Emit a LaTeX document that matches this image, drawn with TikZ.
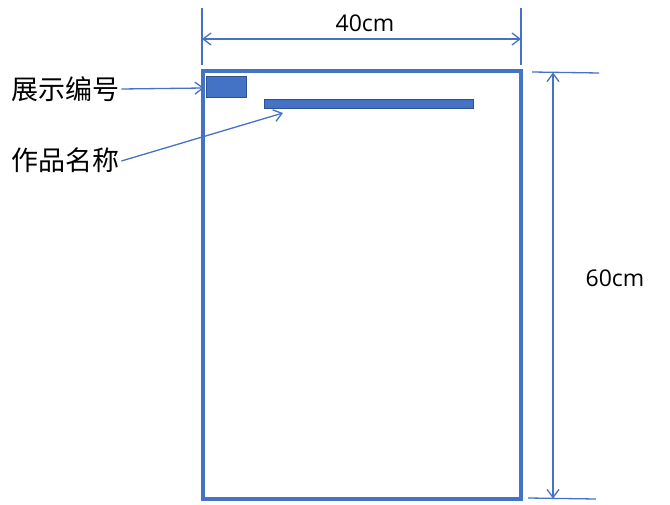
\documentclass[tikz,border=0pt]{standalone}
\usepackage{fontspec}
\setmainfont{Open Sans}
\newfontfamily\cjk{Noto Sans CJK SC}
\usetikzlibrary{arrows.meta}
\definecolor{accent}{HTML}{4472C4}
\definecolor{accentdark}{HTML}{2F528F}
\tikzset{
  dimline/.style={draw=accent, line width=1.3bp},
  dimarrow/.style={draw=accent, line width=1.3bp, {Straight Barb[length=8bp,width=12bp]}-{Straight Barb[length=8bp,width=12bp]}},
  callout/.style={draw=accent, line width=1.3bp, -{Straight Barb[length=8bp,width=12bp]}},
  block/.style={fill=accent, draw=accentdark, line width=1bp},
  cjklabel/.style={font=\cjk\fontsize{27bp}{30bp}\selectfont, inner sep=0pt, anchor=west},
  dimlabel/.style={font=\fontsize{23bp}{27bp}\selectfont, inner sep=0pt},
}
\begin{document}
\begin{tikzpicture}[x=1bp,y=-1bp]
\useasboundingbox (0,0) rectangle (670,505);
% frame
\draw[accent, line width=4bp] (203,71) rectangle (521,499);
% top dimension
\coordinate (eL1) at (202,8);  \coordinate (eL2) at (202,65);
\coordinate (eR1) at (521,8);  \coordinate (eR2) at (521,65);
\draw[dimline] (eL1) -- (eL2);
\draw[dimline] (eR1) -- (eR2);
\coordinate (hA) at (202,39); \coordinate (hB) at (521,39);
\draw[dimarrow] (hA) -- (hB);
\node[dimlabel] (w) at (365,23) {40cm};
% right dimension
\coordinate (eT1) at (532,72); \coordinate (eT2) at (599,73);
\coordinate (eB1) at (528,498); \coordinate (eB2) at (596,499);
\draw[dimline] (eT1) -- (eT2);
\draw[dimline] (eB1) -- (eB2);
\coordinate (vA) at (553,72.5); \coordinate (vB) at (553,498.5);
\draw[dimarrow] (vA) -- (vB);
\node[dimlabel] (h) at (615,278) {60cm};
% blocks
\node[block, minimum width=40bp, minimum height=21bp, inner sep=0pt] (num) at (226.5,87) {};
\node[block, minimum width=209bp, minimum height=9bp, inner sep=0pt] (title) at (368.5,104.5) {};
% labels
\node[cjklabel] (numlbl) at (11,89) {展示编号};
\node[cjklabel] (titlelbl) at (11,160) {作品名称};
\coordinate (numtip) at (204,88);
\coordinate (titletip) at (283,113);
\draw[callout] (numlbl.east) ++(2,0) -- (numtip);
\draw[callout] (titlelbl.east) ++(2,1) -- (titletip);
\end{tikzpicture}
\end{document}
